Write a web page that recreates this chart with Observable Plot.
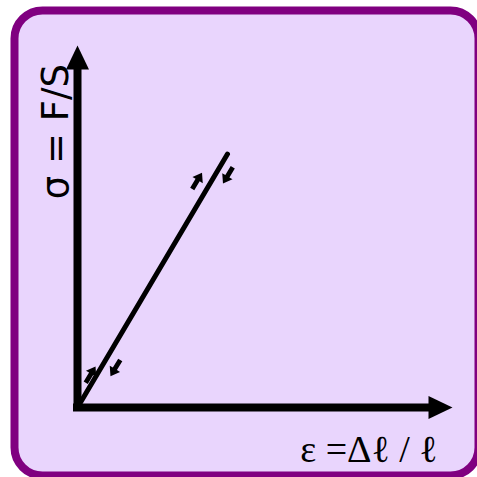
<!DOCTYPE html>
<html>
<head>
<meta charset="utf-8">
<script src="https://cdn.jsdelivr.net/npm/d3@7"></script>
<script src="https://cdn.jsdelivr.net/npm/@observablehq/plot@0.6"></script>
<style>
  html, body { margin: 0; padding: 0; background: #fff; }
  #chart svg { display: block; overflow: hidden; }
</style>
</head>
<body>
<div id="chart"></div>
<script>
// Linear elastic range: stress grows in proportion to strain
const strain = [0, 0.4];
const stress = [0, 0.7];

// Small load arrows on both sides of the line
const arrowStrain = [0.319, 0.401, 0.035, 0.101];
const arrowStress = [0.626, 0.641, 0.091, 0.109];
const arrowAngle = [31, 211, 31, 211];

// Axis extents and labels
const axisMax = 1;
const yLabel = "σ = F/S";
const xLabel = "ε =Δℓ / ℓ";

const curve = strain.map((e, i) => ({e, s: stress[i]}));
const loads = arrowStrain.map((e, i) => ({e, s: arrowStress[i], a: arrowAngle[i]}));
const heads = [
  {e: 0, s: axisMax, a: 0},
  {e: axisMax, s: 0, a: 90}
];

// Filled triangular axis arrowhead, tip at the end of the vector
const triangleHead = {
  draw(ctx, l, r) {
    ctx.moveTo(-r, 0);
    ctx.lineTo(0, -l);
    ctx.lineTo(r, 0);
    ctx.closePath();
  }
};

// Short block arrow: thick shaft plus a filled head
const blockArrow = {
  draw(ctx, l, r) {
    const hl = l * 0.45, sw = r * 0.4, b = -(l - hl);
    ctx.moveTo(-sw, 0);
    ctx.lineTo(-sw, b);
    ctx.lineTo(-r, b);
    ctx.lineTo(0, -l);
    ctx.lineTo(r, b);
    ctx.lineTo(sw, b);
    ctx.lineTo(sw, 0);
    ctx.closePath();
  }
};

const chart = Plot.plot({
  width: 477,
  height: 477,
  margin: 0,
  x: {domain: [0, axisMax], range: [77, 452], axis: null},
  y: {domain: [0, axisMax], range: [407, 45], axis: null},
  style: {background: "#fff", overflow: "hidden"},
  marks: [
    Plot.frame({
      fill: "#e9d5fd",
      stroke: "#800080",
      strokeWidth: 8,
      rx: 28,
      insetLeft: 14,
      insetTop: 10,
      insetRight: -1,
      insetBottom: 2
    }),
    // axes (shafts stop under the arrowheads)
    Plot.ruleX([0], {y1: axisMax, y2: 0, insetTop: 20, stroke: "black", strokeWidth: 8, strokeLinecap: "square"}),
    Plot.ruleY([0], {x1: 0, x2: axisMax, insetRight: 20, stroke: "black", strokeWidth: 8, strokeLinecap: "square"}),
    Plot.vector(heads, {
      x: "e", y: "s", rotate: "a",
      anchor: "end", length: 24, r: 11.5,
      shape: triangleHead, fill: "black", stroke: "none"
    }),
    // stress–strain line
    Plot.line(curve, {x: "e", y: "s", stroke: "black", strokeWidth: 5}),
    // load arrows
    Plot.vector(loads, {
      x: "e", y: "s", rotate: "a",
      anchor: "middle", length: 19, r: 6,
      shape: blockArrow, fill: "black", stroke: "none"
    }),
    // axis labels
    Plot.text([yLabel], {
      x: 0, y: 0.762, dx: -10, rotate: -90,
      text: d => d, lineAnchor: "bottom", textAnchor: "middle",
      fontFamily: "DejaVu Sans", fontSize: 37, fill: "black"
    }),
    Plot.text([xLabel], {
      x: axisMax, y: 0, dx: -15, dy: 54,
      text: d => d, lineAnchor: "bottom", textAnchor: "end",
      fontFamily: "Liberation Serif", fontSize: 38, fill: "black"
    })
  ]
});

document.getElementById("chart").append(chart);
</script>
</body>
</html>
